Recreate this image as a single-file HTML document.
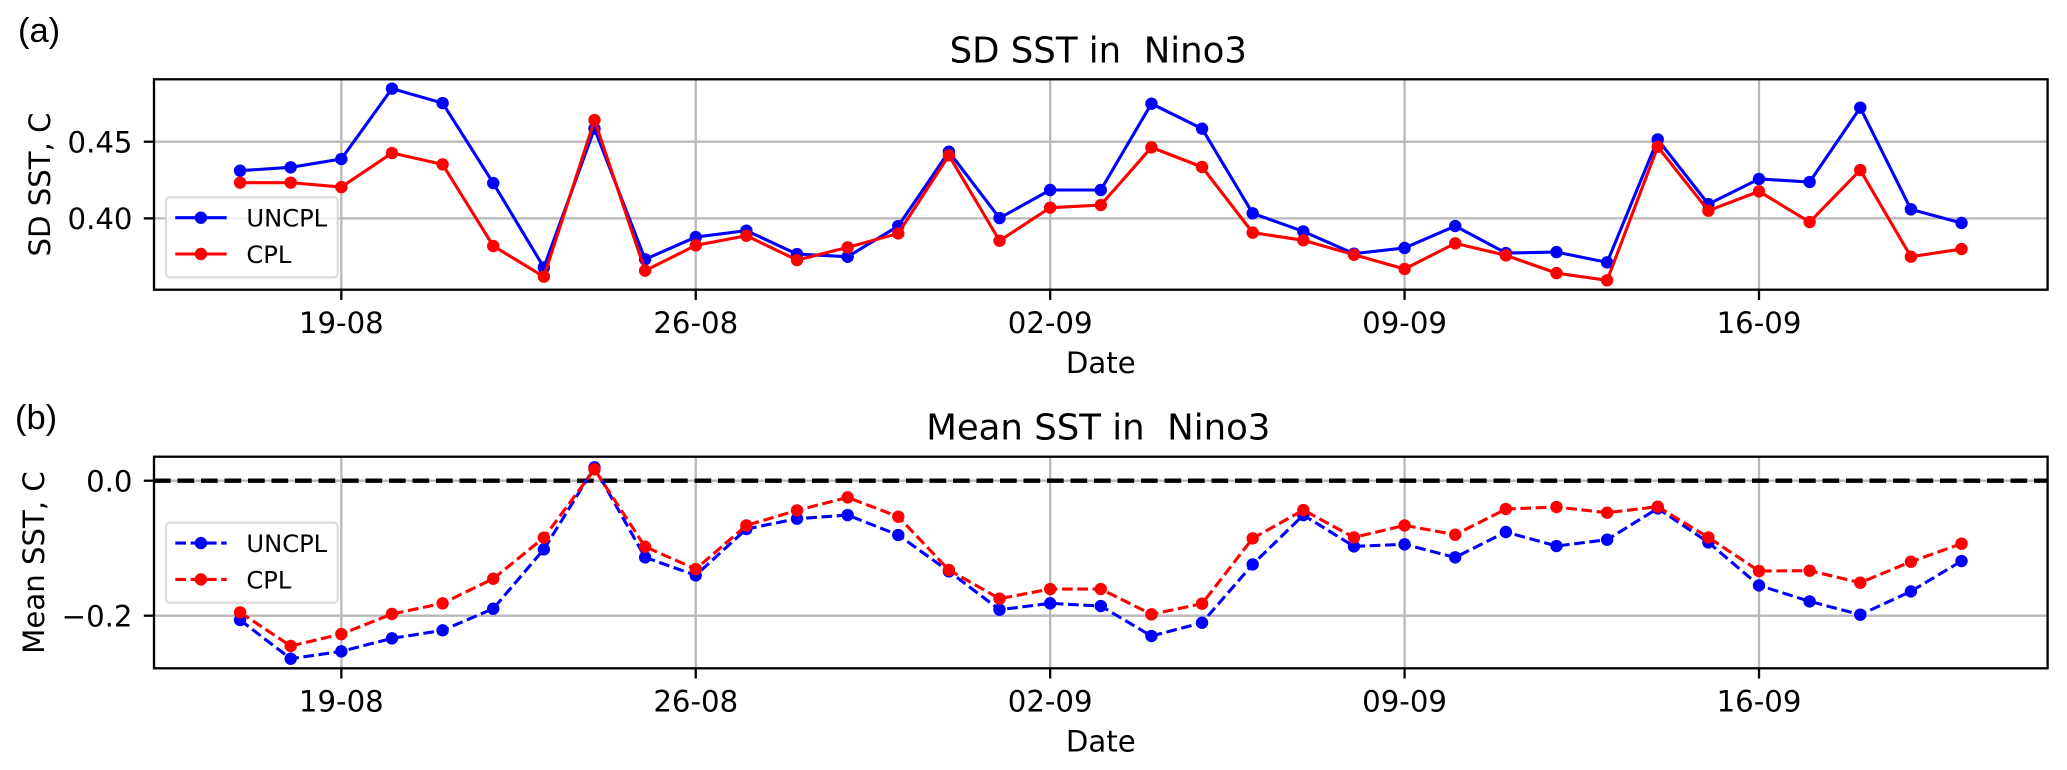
<!DOCTYPE html>
<html lang="en">
<head>
<meta charset="utf-8">
<title>SD and Mean SST in Nino3</title>
<style>
  html, body { margin: 0; padding: 0; background: #fff; }
  #chart { display: block; width: 2067px; height: 770px; }
  text { font-family: "DejaVu Sans", sans-serif; fill: #000; }
</style>
</head>
<body>
<svg id="chart" xmlns="http://www.w3.org/2000/svg" width="2067" height="770" viewBox="0 0 2067 770"></svg>
<script>
const categories = ['17-08','18-08','19-08','20-08','21-08','22-08','23-08','24-08','25-08','26-08','27-08','28-08','29-08','30-08','31-08','01-09','02-09','03-09','04-09','05-09','06-09','07-09','08-09','09-09','10-09','11-09','12-09','13-09','14-09','15-09','16-09','17-09','18-09','19-09','20-09'];
const xTickLabels = ['19-08','26-08','02-09','09-09','16-09'];

const sdUncpl = [.4311,.4333,.4387,.4846,.4752,.4230,.3680,.4585,.3733,.3878,.3920,.3767,.3750,.3950,.4435,.4002,.4185,.4185,.4748,.4585,.4033,.3915,.3770,.3807,.3950,.3774,.3780,.3713,.4515,.4093,.4257,.4237,.4722,.4059,.3970];
const sdCpl = [.4233,.4233,.4204,.4426,.4352,.3820,.3620,.4641,.3659,.3824,.3887,.3728,.3811,.3902,.4411,.3854,.4070,.4087,.4463,.4335,.3907,.3857,.3763,.3670,.3837,.3759,.3643,.3596,.4467,.4050,.4176,.3976,.4315,.3750,.3800];
const sdTicks = [0.40, 0.45];
const sdTickLabels = ['0.40','0.45'];

const meanUncpl = [-.2064,-.2637,-.2528,-.2336,-.2217,-.1896,-.1017,.0198,-.1136,-.1402,-.0716,-.0563,-.0509,-.0805,-.1343,-.1911,-.1817,-.1857,-.2301,-.2104,-.1240,-.0509,-.0973,-.0943,-.1136,-.0760,-.0968,-.0874,-.0410,-.0914,-.1551,-.1788,-.1985,-.1640,-.1190];
const meanCpl = [-.1951,-.2449,-.2272,-.1975,-.1817,-.1452,-.0844,.0168,-.0978,-.1309,-.0662,-.0440,-.0247,-.0533,-.1323,-.1748,-.1605,-.1605,-.1980,-.1822,-.0854,-.0435,-.0840,-.0662,-.0800,-.0420,-.0390,-.0474,-.0385,-.0840,-.1338,-.1333,-.1511,-.1200,-.0933];
const meanTicks = [-0.2, 0.0];
const meanTickLabels = ['\u22120.2','0.0'];
const referenceLevel = 0;

const NS = 'http://www.w3.org/2000/svg';
const svg = document.getElementById('chart');
const AX_LEFT = 154, AX_RIGHT = 2047.6;
const XMIN = -1.7, XMAX = 35.7;
const SW = 2.3, LW = 3.1, R = 6.2, DASH = '10.7 4.6';
const GRID = '#b9b9b9';

function xScale(i) { return AX_LEFT + (i - XMIN) / (XMAX - XMIN) * (AX_RIGHT - AX_LEFT); }
function make(tag, attrs, parent, txt) {
  const n = document.createElementNS(NS, tag);
  for (const k in attrs) n.setAttribute(k, attrs[k]);
  if (txt !== undefined) n.textContent = txt;
  parent.appendChild(n);
  return n;
}

function drawSeries(g, values, color, dash, label, y) {
  const s = make('g', {}, g);
  
  
  const pts = values.map((v, i) => xScale(i).toFixed(2) + ',' + y(v).toFixed(2)).join(' ');
  const attrs = { points: pts, fill: 'none', stroke: color, 'stroke-width': LW, 'stroke-linejoin': 'round' };
  if (dash) attrs['stroke-dasharray'] = DASH;
  const line = make('polyline', attrs, s);
  
  
  values.forEach((v, i) => {
    const c = make('circle', { cx: xScale(i).toFixed(2), cy: y(v).toFixed(2), r: R, fill: color }, s);
    
    
  });
}

function drawPanel(p) {
  const g = make('g', {}, svg);
  
  
  const y = v => p.top + (p.ymax - v) / (p.ymax - p.ymin) * (p.bottom - p.top);

  // grid
  xTickLabels.forEach(lbl => {
    const x = xScale(categories.indexOf(lbl));
    const gl = make('line', { x1: x, x2: x, y1: p.top, y2: p.bottom, stroke: GRID, 'stroke-width': SW }, g);
    
    
  });
  p.ticks.forEach(v => {
    const gl = make('line', { x1: AX_LEFT, x2: AX_RIGHT, y1: y(v), y2: y(v), stroke: GRID, 'stroke-width': SW }, g);
    
    
  });

  // reference line
  if (p.reference !== undefined) {
    const r = make('line', { x1: AX_LEFT, x2: AX_RIGHT, y1: y(p.reference), y2: y(p.reference), stroke: '#000', 'stroke-width': 4.4, 'stroke-dasharray': '16.7 6.8' }, g);
    
    
  }

  // series
  drawSeries(g, p.uncpl, '#0000ff', p.dash, 'uncpl', y);
  drawSeries(g, p.cpl, '#ff0000', p.dash, 'cpl', y);

  // legend
  const lg = make('g', {}, g);
  
  
  const lb = make('rect', { x: 166, y: p.legendTop, width: 171.7, height: 80, rx: 4, ry: 4, fill: '#fff', 'fill-opacity': 0.8, stroke: '#d4d4d4', 'stroke-opacity': 0.8, 'stroke-width': SW }, lg);
  
  
  [['UNCPL', '#0000ff', 20.4], ['CPL', '#ff0000', 56.7]].forEach(e => {
    const ly = p.legendTop + e[2];
    const attrs = { x1: 175.3, x2: 226.7, y1: ly, y2: ly, stroke: e[1], 'stroke-width': LW };
    if (p.dash) attrs['stroke-dasharray'] = DASH;
    const hl = make('line', attrs, lg);
    
    
    const hc = make('circle', { cx: 200.9, cy: ly, r: R, fill: e[1] }, lg);
    
    
    const ht = make('text', { x: 246.4, y: ly + 9, 'font-size': 24.2 }, lg, e[0]);
    
    
  });

  // frame
  const f = make('rect', { x: AX_LEFT, y: p.top, width: AX_RIGHT - AX_LEFT, height: p.bottom - p.top, fill: 'none', stroke: '#000', 'stroke-width': SW }, g);
  
  

  // x ticks
  xTickLabels.forEach(lbl => {
    const x = xScale(categories.indexOf(lbl));
    const t = make('line', { x1: x, x2: x, y1: p.bottom, y2: p.bottom + 10.2, stroke: '#000', 'stroke-width': SW }, g);
    
    
    const l = make('text', { x: x, y: p.bottom + 43.4, 'font-size': 29.2, 'text-anchor': 'middle' }, g, lbl);
    
    
  });

  // y ticks
  p.ticks.forEach((v, i) => {
    const t = make('line', { x1: AX_LEFT - 10.2, x2: AX_LEFT, y1: y(v), y2: y(v), stroke: '#000', 'stroke-width': SW }, g);
    
    
    const l = make('text', { x: 132.5, y: y(v) + 10.7, 'font-size': 29.2, 'text-anchor': 'end' }, g, p.tickLabels[i]);
    
    
  });

  // titles
  const ti = make('text', { x: (AX_LEFT + AX_RIGHT) / 2 - 2.5, y: p.top - 17, 'font-size': 35.5, 'text-anchor': 'middle', 'xml:space': 'preserve', style: 'white-space:pre' }, g, p.title);
  
  
  const xl = make('text', { x: (AX_LEFT + AX_RIGHT) / 2, y: p.bottom + 83.4, 'font-size': 29.2, 'text-anchor': 'middle' }, g, 'Date');
  
  
  const ym = (p.top + p.bottom) / 2;
  const yl = make('text', { x: 0, y: 0, 'font-size': 29.2, 'text-anchor': 'middle', transform: 'translate(' + p.ylabelX + ',' + ym + ') rotate(-90)' }, g, p.ylabel);
  
  

  // panel letter
  const pl = make('text', { x: p.letterX, y: p.letterY, 'font-size': 34.5, style: 'font-family:"Liberation Sans",sans-serif' }, g, p.letter);
  
  
}

drawPanel({
  id: 'sd-sst', title: 'SD SST in  Nino3', ylabel: 'SD SST, C', letter: '(a)', letterX: 18, letterY: 42,
  top: 79.3, bottom: 289.7, ymin: 0.35348, ymax: 0.4907,
  ticks: sdTicks, tickLabels: sdTickLabels, uncpl: sdUncpl, cpl: sdCpl,
  dash: false, legendTop: 197.3, ylabelX: 50
});
drawPanel({
  id: 'mean-sst', title: 'Mean SST in  Nino3', ylabel: 'Mean SST, C', letter: '(b)', letterX: 15, letterY: 429,
  top: 456.7, bottom: 668.3, ymin: -0.27793, ymax: 0.03556,
  ticks: meanTicks, tickLabels: meanTickLabels, uncpl: meanUncpl, cpl: meanCpl, reference: referenceLevel,
  dash: true, legendTop: 522.7, ylabelX: 44
});
</script>
</body>
</html>
